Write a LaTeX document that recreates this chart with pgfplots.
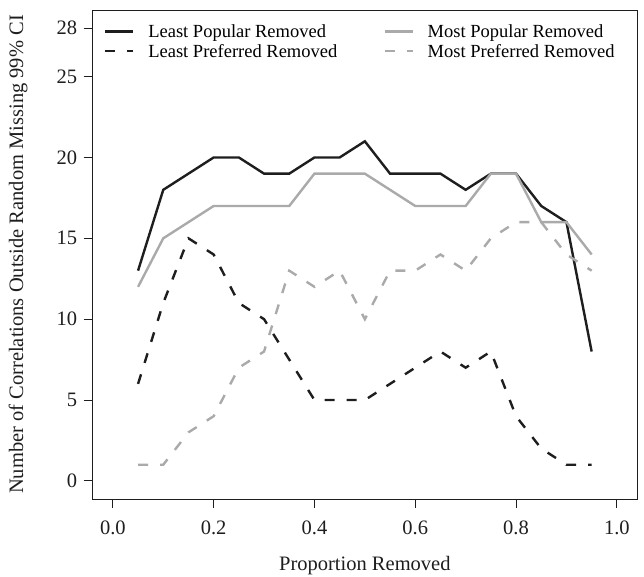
\documentclass[border=0pt]{standalone}
\usepackage{fontspec}
\setmainfont{Liberation Serif}
\usepackage{pgfplots}
\pgfplotsset{compat=1.18}
\usepackage{pgfplotstable}

\definecolor{rgray}{RGB}{170,170,170}
\definecolor{rdark}{RGB}{30,30,30}

% proportion removed, counts outside the 99% CI
\pgfplotstableread{
x     lpop  mpop  lpref  mpref
0.05  13    12    6      1
0.10  18    15    11     1
0.15  19    16    15     3
0.20  20    17    14     4
0.25  20    17    11     7
0.30  19    17    10     8
0.35  19    17    7.5    13
0.40  20    19    5      12
0.45  20    19    5      13
0.50  21    19    5      10
0.55  19    18    6      13
0.60  19    17    7      13
0.65  19    17    8      14
0.70  18    17    7      13
0.75  19    19    8      15
0.80  19    19    4      16
0.85  17    16    2      16
0.90  16    16    1      14
0.95  8     14    1      13
}\datatable

\begin{document}
\begin{tikzpicture}
\useasboundingbox (-92.7bp,-78bp) rectangle (551.3bp,499bp);
\begin{axis}[
    at={(0,0)}, anchor=south west,
    scale only axis,
    width=544.3bp, height=489bp,
    xmin=-0.04, xmax=1.04,
    ymin=-1.12, ymax=29.12,
    xtick={0,0.2,0.4,0.6,0.8,1.0},
    ytick={0,5,10,15,20,25,28},
    /pgf/number format/assume math mode=true,
    xtick pos=lower, ytick pos=left,
    tick align=outside,
    major tick length=9bp,
    axis line style={rdark, line width=0.9bp},
    every tick/.style={rdark, line width=0.9bp},
    tick label style={font=\fontsize{20.5bp}{24bp}\selectfont, text=rdark},
    xticklabel style={yshift=-9bp, /pgf/number format/.cd, fixed, fixed zerofill, precision=1},
    yticklabel style={xshift=-3bp},
    label style={font=\fontsize{20.5bp}{24bp}\selectfont, text=rdark},
    xlabel={Proportion Removed},
    ylabel={Number of Correlations Outside Random Missing 99\% CI},
    xlabel style={at={(axis description cs:0.5,-0.137)}, anchor=center},
    ylabel style={at={(axis description cs:-0.1372,0.5)}, anchor=center},
    legend columns=2,
    legend cell align=left,
    legend image code/.code={\draw[#1] (0bp,0bp) -- (28bp,0bp);},
    legend style={draw=none, fill=none,
        at={(axis description cs:0,1)}, anchor=north west,
        xshift=8bp, yshift=-10bp,
        font=\fontsize{18.5bp}{20bp}\selectfont,
        row sep=1.5bp,
        /tikz/every odd column/.append style={column sep=12bp},
        /tikz/every even column/.append style={column sep=44bp}},
]
\addplot[rdark, line width=2.4bp] table[x=x, y=lpop] {\datatable};
\addlegendentry{Least Popular Removed}
\addplot[rgray, line width=2.4bp] table[x=x, y=mpop] {\datatable};
\addlegendentry{Most Popular Removed}
\addplot[rdark, line width=2.4bp, dash pattern=on 10bp off 12bp] table[x=x, y=lpref] {\datatable};
\addlegendentry{Least Preferred Removed}
\addplot[rgray, line width=2.4bp, dash pattern=on 10bp off 12bp] table[x=x, y=mpref] {\datatable};
\addlegendentry{Most Preferred Removed}
\end{axis}
\end{tikzpicture}
\end{document}
